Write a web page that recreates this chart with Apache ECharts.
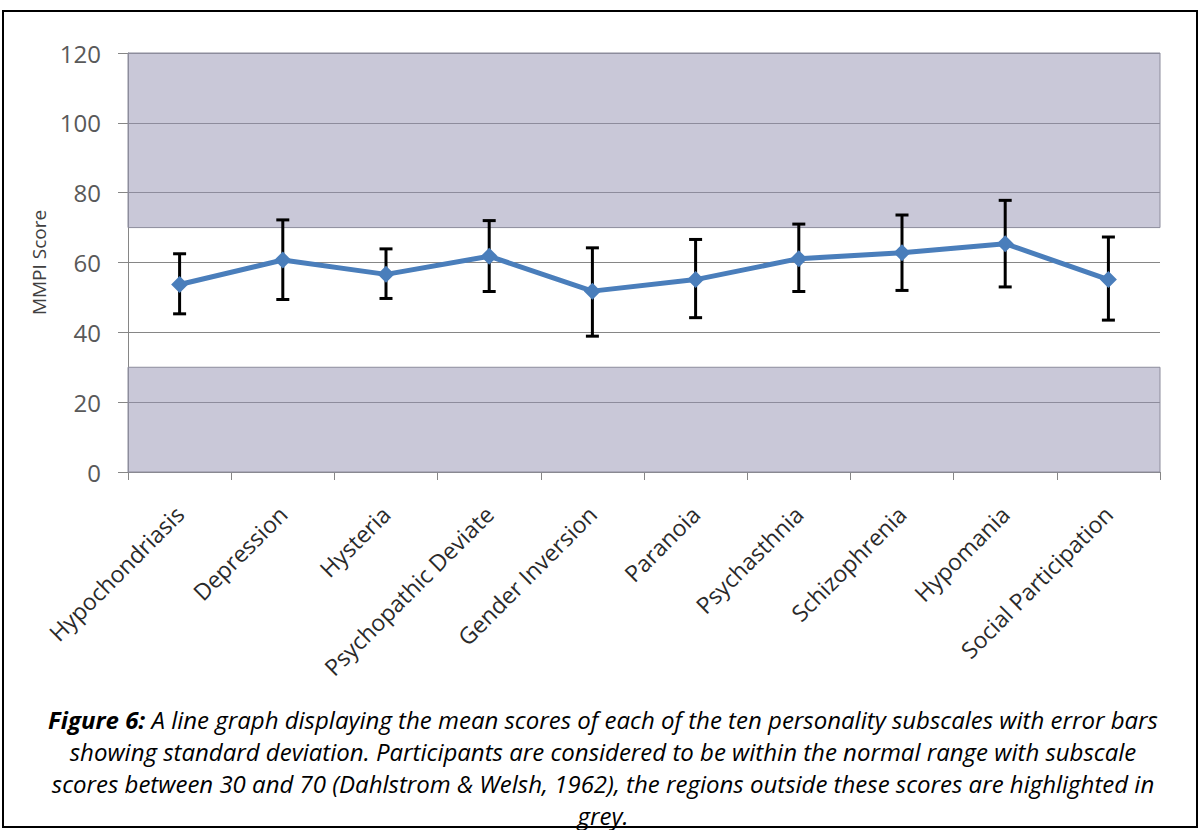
<!DOCTYPE html>
<html>
<head>
<meta charset="utf-8">
<script src="https://cdn.jsdelivr.net/npm/echarts@6/dist/echarts.min.js"></script>
<style>
html,body{margin:0;padding:0;background:#fff;}
#c{width:1200px;height:830px;}
</style>
</head>
<body>
<div id="c"></div>
<script>
const categories = ['Hypochondriasis','Depression','Hysteria','Psychopathic Deviate','Gender Inversion','Paranoia','Psychasthnia','Schizophrenia','Hypomania','Social Participation'];
const means   = [53.7, 60.7, 56.6, 61.8, 51.8, 55.1, 61.1, 62.8, 65.4, 55.1];
const errLow  = [45.3, 49.4, 49.7, 51.7, 38.9, 44.2, 51.7, 52.0, 53.0, 43.5];
const errHigh = [62.5, 72.2, 63.9, 72.0, 64.2, 66.6, 71.0, 73.6, 77.8, 67.3];
const yTicks = [0, 20, 40, 60, 80, 100, 120];
const normalLow = 30, normalHigh = 70;
const captionBold = 'Figure 6:';
const captionLines = [
  ' A line graph displaying the mean scores of each of the ten personality subscales with error bars',
  'showing standard deviation. Participants are considered to be within the normal range with subscale',
  'scores between 30 and 70 (Dahlstrom & Welsh, 1962), the regions outside these scores are highlighted in',
  'grey.'
];

const FONT = '"Open Sans", "Noto Sans", sans-serif';
const chart = echarts.init(document.getElementById('c'), null, {renderer: 'svg'});

const errData = categories.map((c, i) => [i, errLow[i], errHigh[i]]);

const capFont = {fontFamily: FONT, fontSize: 24, fontStyle: 'italic', fill: '#000'};
const captionGraphics = captionLines.map((t, k) => ({
  type: 'text', silent: true,
  x: 603, y: 719 + k * 32,
  style: k === 0 ? {
    text: '{b|' + captionBold + '}{i|' + t + '}',
    align: 'center', verticalAlign: 'middle',
    rich: {
      b: Object.assign({}, capFont, {fontWeight: 'bold'}),
      i: Object.assign({}, capFont)
    }
  } : Object.assign({text: t, align: 'center', verticalAlign: 'middle'}, capFont)
}));

chart.setOption({
  animation: false,
  backgroundColor: '#ffffff',
  graphic: [{
    type: 'rect', shape: {x: 3, y: 11, width: 1194, height: 816},
    style: {fill: 'none', stroke: '#000', lineWidth: 2}, silent: true
  }].concat(captionGraphics),
  grid: {left: 128, right: 40, top: 53, bottom: 358},
  xAxis: {
    type: 'category', data: categories, boundaryGap: true,
    axisLine: {lineStyle: {color: '#868686', width: 1}},
    axisTick: {show: true, length: 8, lineStyle: {color: '#868686'}},
    axisLabel: {rotate: 45, fontFamily: FONT, fontSize: 23, color: '#2a2a2a', margin: 38, interval: 0}
  },
  yAxis: {
    type: 'value', min: yTicks[0], max: yTicks[yTicks.length - 1], interval: 20,
    name: 'MMPI Score', nameLocation: 'middle', nameGap: 64,
    nameTextStyle: {fontFamily: FONT, fontSize: 19, color: '#404040'},
    axisLine: {show: true, lineStyle: {color: '#868686', width: 1}},
    axisTick: {show: true, length: 10, lineStyle: {color: '#868686'}},
    axisLabel: {fontFamily: FONT, fontSize: 24, color: '#595959', margin: 27},
    splitLine: {show: true, lineStyle: {color: '#868686', width: 1}}
  },
  series: [
    {
      type: 'line', data: means, z: 5,
      symbol: 'diamond', symbolSize: 17,
      lineStyle: {color: '#4A7EBB', width: 5},
      itemStyle: {color: '#4A7EBB'},
      markArea: {
        silent: true,
        itemStyle: {color: 'rgba(147,145,177,0.5)', borderColor: '#8c8c9c', borderWidth: 1},
        data: [
          [{yAxis: normalHigh}, {yAxis: yTicks[yTicks.length - 1]}],
          [{yAxis: yTicks[0]}, {yAxis: normalLow}]
        ]
      }
    },
    {
      type: 'custom', z: 4, data: errData,
      renderItem: function (params, api) {
        const x = api.value(0);
        const lo = api.coord([x, api.value(1)]);
        const hi = api.coord([x, api.value(2)]);
        const w = 6.5;
        const st = {stroke: '#000', lineWidth: 3, fill: 'none'};
        return {type: 'group', children: [
          {type: 'line', shape: {x1: lo[0], y1: lo[1], x2: hi[0], y2: hi[1]}, style: st},
          {type: 'line', shape: {x1: lo[0] - w, y1: lo[1], x2: lo[0] + w, y2: lo[1]}, style: st},
          {type: 'line', shape: {x1: hi[0] - w, y1: hi[1], x2: hi[0] + w, y2: hi[1]}, style: st}
        ]};
      }
    }
  ]
});
</script>
</body>
</html>
